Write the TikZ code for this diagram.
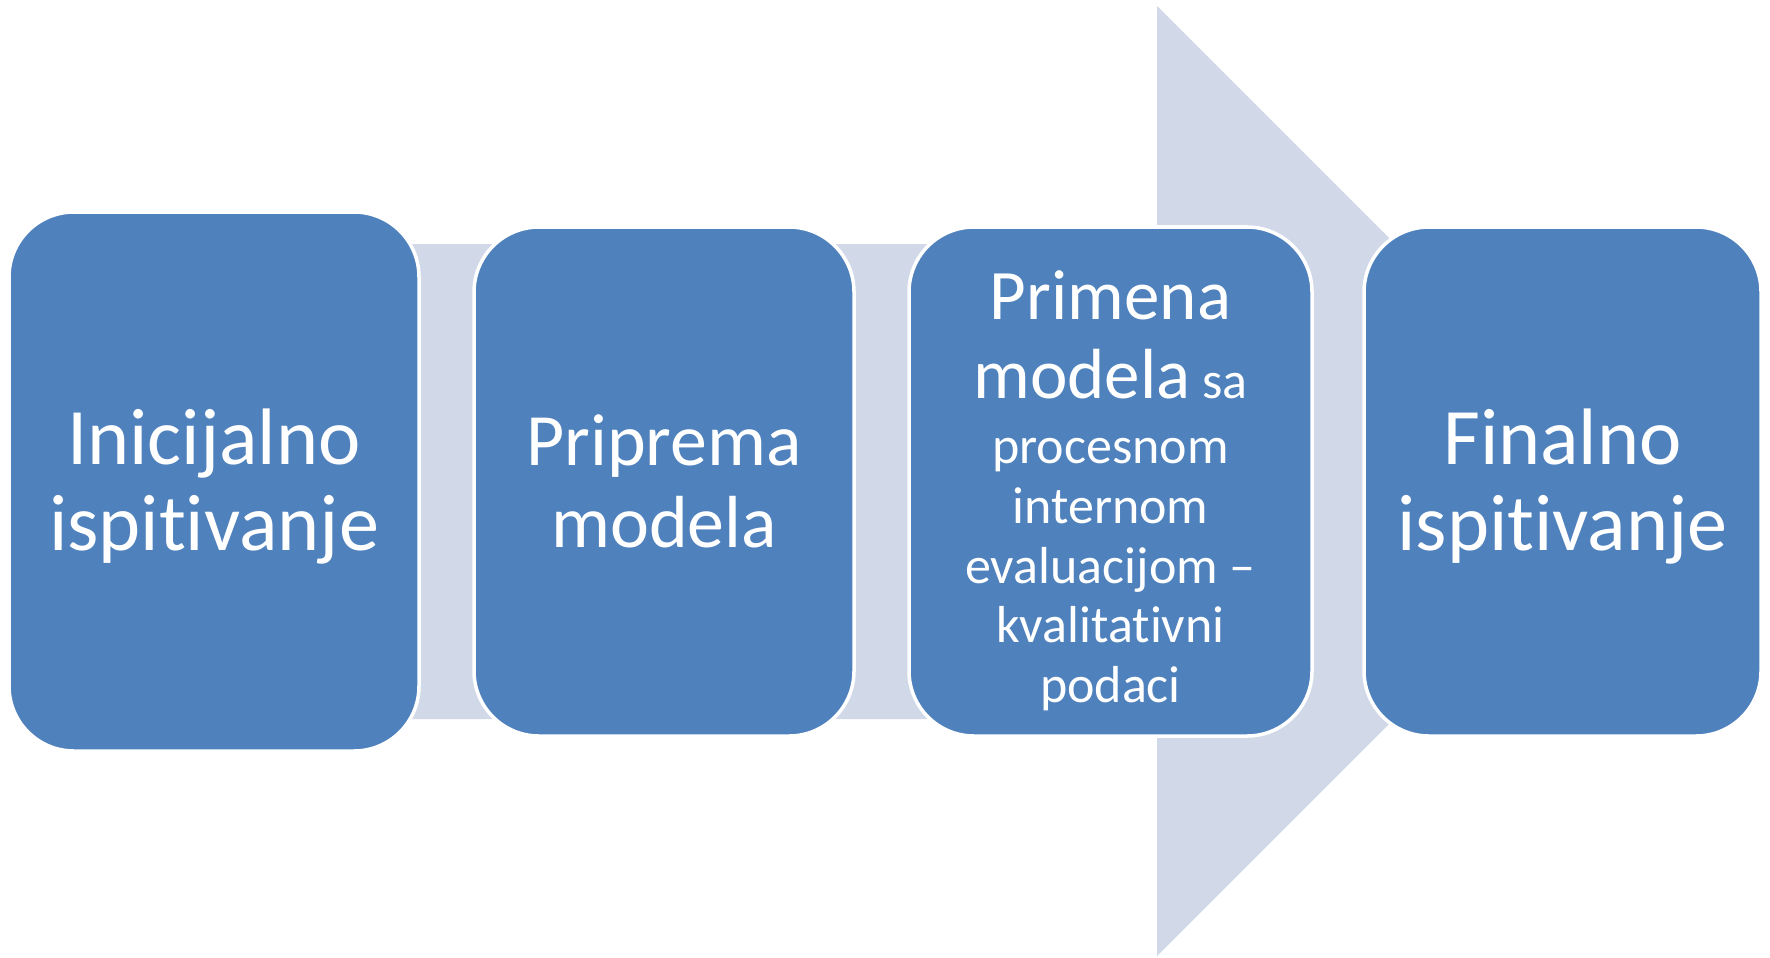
\documentclass[tikz,border=0pt]{standalone}
\usepackage{fontspec}
\setmainfont{Carlito}[Ligatures=NoCommon]
\definecolor{boxblue}{HTML}{4F81BD}
\definecolor{arrowgray}{HTML}{D1D8E8}
\begin{document}
\begin{tikzpicture}[
    phase/.style={rectangle, rounded corners=0.65cm, fill=boxblue, draw=white,
                  line width=1pt, inner sep=0pt, align=center, text=white,
                  minimum height=5.09cm, text height=39.5pt, text depth=0pt},
    bigtext/.style={font=\fontsize{22.8}{24.5}\selectfont},
    midtext/.style={font=\fontsize{21}{23.3}\selectfont},
    smalltext/.style={font=\fontsize{14.8}{17}\selectfont},
    backarrow/.style={fill=arrowgray}
]
\useasboundingbox (0,0) rectangle (17.70,9.57);

% Strelica u pozadini
\fill[backarrow] (0.5,2.38) -- (11.57,2.38) -- (11.57,0.01) -- (16.32,4.76)
    -- (11.57,9.51) -- (11.57,7.13) -- (0.5,7.13) -- cycle;

% Faze procesa
\node[phase, bigtext, minimum width=4.10cm, minimum height=5.39cm] at (2.14,4.755) (initial) {
    Inicijalno\\ispitivanje
};

\node[phase, midtext, minimum width=3.80cm, text height=37.3pt] at (6.64,4.755) (prep) {
    Priprema\\modela
};

\node[phase, smalltext, minimum width=4.03cm, text height=125.8pt] at (11.105,4.755) (apply) {
    {\fontsize{20.2}{22.5}\selectfont Primena}\\[5.5pt]
    {\fontsize{20.2}{22.5}\selectfont modela} sa\\[1.5pt]
    procesnom\\internom\\evaluacijom –\\kvalitativni\\podaci
};

\node[phase, bigtext, minimum width=3.97cm] at (15.625,4.755) (final) {
    Finalno\\ispitivanje
};

\end{tikzpicture}
\end{document}
